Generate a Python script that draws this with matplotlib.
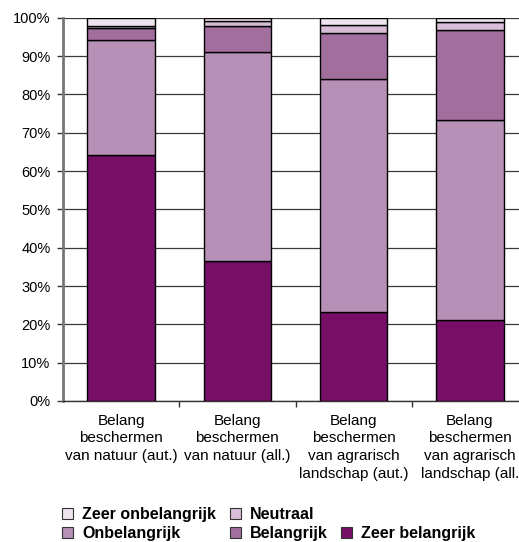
import numpy as np
import matplotlib
matplotlib.use("Agg")
import matplotlib.pyplot as plt
from matplotlib.patches import Patch

plt.rcParams['font.family'] = ['Liberation Sans', 'DejaVu Sans']

categories = ["Belang\nbeschermen\nvan natuur (aut.)",
              "Belang\nbeschermen\nvan natuur (all.)",
              "Belang\nbeschermen\nvan agrarisch\nlandschap (aut.)",
              "Belang\nbeschermen\nvan agrarisch\nlandschap (all."]

# stacked from the bottom up, as drawn
zeer_belangrijk = [64.3, 36.5, 23.3, 21.1]
onbelangrijk = [29.8, 54.5, 60.6, 52.2]
belangrijk = [3.2, 6.9, 12.0, 23.6]
neutraal = [0.5, 1.2, 2.1, 1.9]
zeer_onbelangrijk = [2.2, 0.9, 2.0, 1.2]

series = [("Zeer belangrijk", zeer_belangrijk, "#770F67"),
          ("Onbelangrijk", onbelangrijk, "#B690B6"),
          ("Belangrijk", belangrijk, "#A26E9E"),
          ("Neutraal", neutraal, "#D7BDD7"),
          ("Zeer onbelangrijk", zeer_onbelangrijk, "#EEE4EE")]

fig = plt.figure(figsize=(5.19, 5.42), dpi=100)
ax = fig.add_axes([63 / 519, 1 - 401 / 542, 465 / 519, 383.3 / 542])

x = np.arange(len(categories))
bottom = np.zeros(len(categories))
handles = {}
for name, vals, col in series:
    ax.bar(x, vals, width=0.58, bottom=bottom, color=col,
           edgecolor="black", linewidth=1.0, zorder=3)
    handles[name] = Patch(facecolor=col, edgecolor="#333333", linewidth=0.8)
    bottom += np.array(vals)

ax.set_xlim(-0.5, 3.5)
ax.set_ylim(0, 100)
ax.set_yticks(np.arange(0, 101, 10))
ax.set_yticklabels([f"{v}%" for v in range(0, 101, 10)])
ax.yaxis.grid(True, color="#3a3a3a", linewidth=0.9, zorder=0)
ax.set_axisbelow(True)

ax.set_xticks(x)
ax.set_xticklabels(categories, fontsize=11, linespacing=1.36)
ax.set_xticks([0.5, 1.5, 2.5], minor=True)
ax.tick_params(axis="x", which="major", length=0, pad=9)
ax.tick_params(axis="x", which="minor", length=4, width=1, color="#333333", direction="out")
ax.tick_params(axis="y", length=4, width=1, color="#333333", labelsize=10.5, pad=5)

for s in ["top", "right"]:
    ax.spines[s].set_visible(False)
ax.spines["left"].set_color("#777777")
ax.spines["left"].set_linewidth(2)
ax.spines["bottom"].set_color("#333333")
ax.spines["bottom"].set_linewidth(1)

legend_kw = dict(frameon=False, borderpad=0, borderaxespad=0,
                 handlelength=0.7, handleheight=0.7,
                 handletextpad=0.55, labelspacing=0.25,
                 prop={"weight": "bold", "size": 11.5})

columns = [(["Zeer onbelangrijk", "Onbelangrijk"], 62, 507),
           (["Neutraal", "Belangrijk"], 230, 507),
           (["Zeer belangrijk"], 341, 526)]
for names, px, py in columns:
    fig.legend([handles[n] for n in names], names, loc="upper left",
               bbox_to_anchor=(px / 519, 1 - py / 542), **legend_kw)

fig.savefig("out.png", dpi=100)
